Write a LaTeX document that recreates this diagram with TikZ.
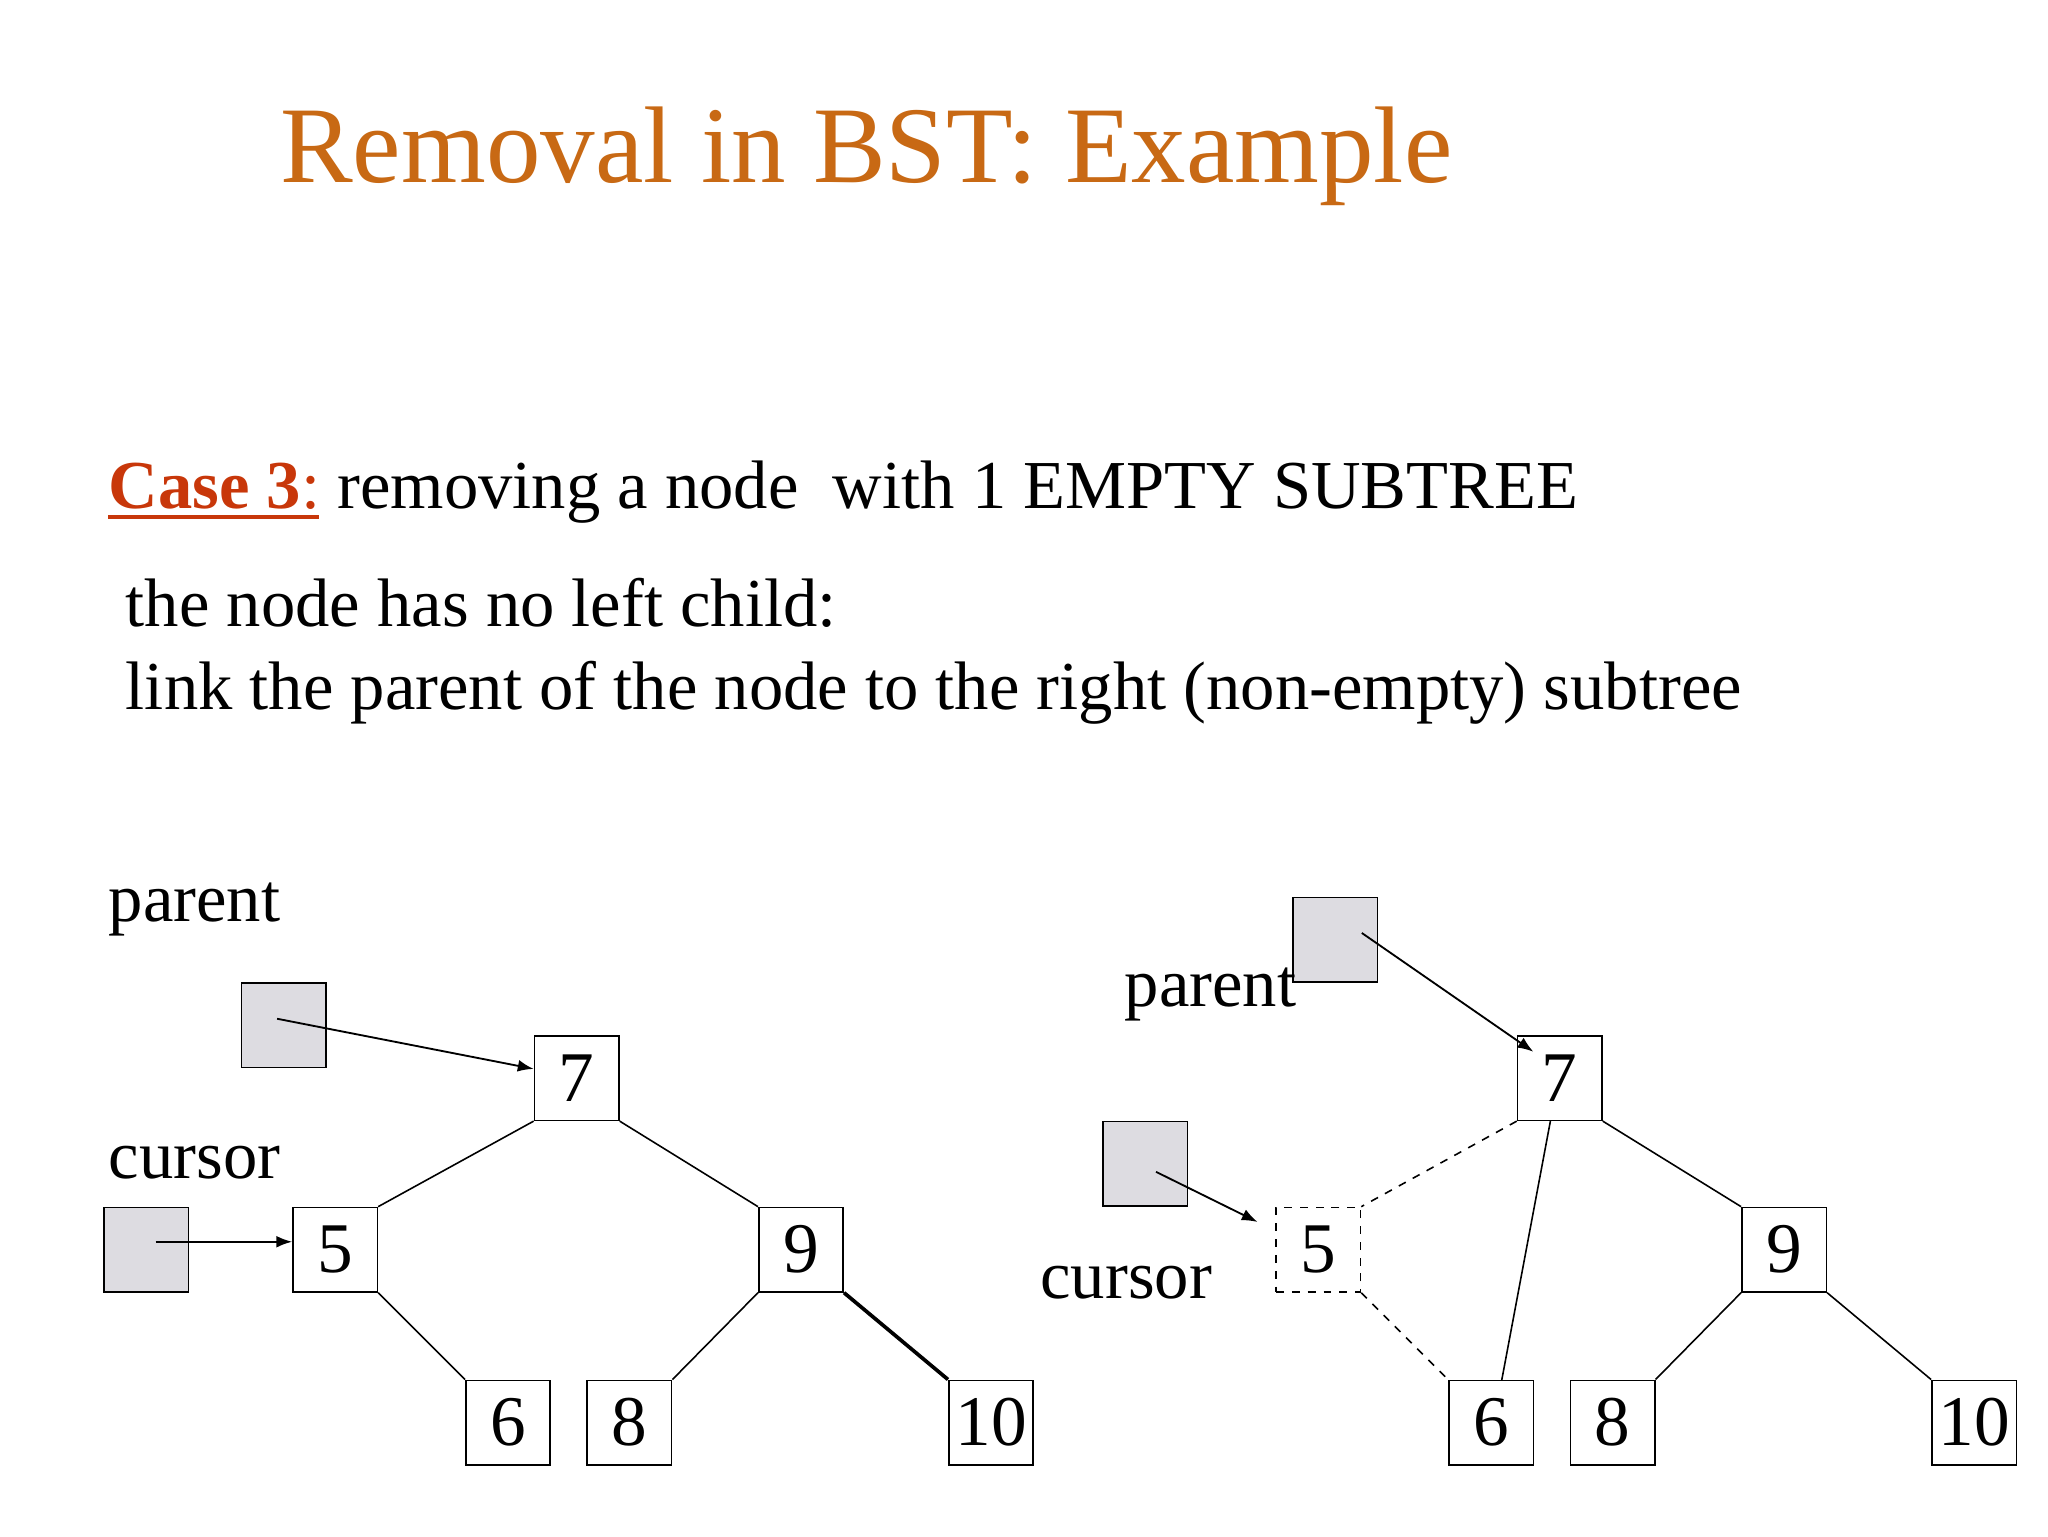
\documentclass[tikz,border=0pt]{standalone}
\usepackage{fontspec}
\setmainfont{Liberation Serif}
\usetikzlibrary{arrows.meta}
\definecolor{ttl}{RGB}{200,105,20}
\definecolor{cs}{RGB}{200,55,10}
\definecolor{gbox}{RGB}{221,220,225}
\newcommand{\myul}[1]{\underline{#1}}
\begin{document}
\begin{tikzpicture}[x=0.5pt,y=-0.5pt,
  bn/.style={draw,line width=0.6pt,minimum size=32pt,inner sep=0pt,font=\fontsize{27}{30}\selectfont},
  gb/.style={draw,line width=0.6pt,fill=gbox,minimum size=32pt,inner sep=0pt},
  lbl/.style={anchor=base west,inner sep=0pt,font=\fontsize{26}{30}\selectfont},
  ed/.style={line width=0.6pt},
  ar/.style={line width=0.7pt,-{Latex[length=6pt,width=4.5pt]}}]
\useasboundingbox (0,0) rectangle (1552,1164);
\node[anchor=base west,inner sep=0pt,text=ttl,font=\fontsize{41.3}{46}\selectfont] (title) at (212,138) {Removal in BST: Example};
\node[lbl] (case) at (82,385) {\textcolor{cs}{\textbf{Case 3}:}\ removing a node\ \ with 1 EMPTY SUBTREE};
\draw[cs,line width=1.5pt] (82,392) -- (242,392);
\node[lbl] (l2) at (95,475) {the node has no left child:};
\node[lbl] (l3) at (95,538) {link the parent of the node to the right (non-empty) subtree};
% left tree
\node[bn] (a7) at (437,817) {7};
\node[bn] (a5) at (254,947) {5};
\node[bn] (a9) at (607,947) {9};
\node[bn] (a6) at (385,1078) {6};
\node[bn] (a8) at (477,1078) {8};
\node[bn] (a10) at (751,1078) {10};
\node[gb] (ap) at (215,777) {};
\node[gb] (ac) at (111,947) {};
\node[lbl] (apl) at (82,698) {parent};
\node[lbl] (acl) at (82,893) {cursor};
\draw[ed] (a7.south west) -- (a5.north east);
\draw[ed] (a7.south east) -- (a9.north west);
\draw[ed] (a5.south east) -- (a6.north west);
\draw[ed] (a9.south west) -- (a8.north east);
\draw[line width=1.4pt] (a9.south east) -- (a10.north west);
\coordinate (aps) at (210,772);
\coordinate (acs) at (118,941);
\draw[ar] (aps) -- (a7.west |- 0,810);
\draw[ar] (acs) -- (a5.west |- 0,941);
% right tree
\node[bn] (b7) at (1182,817) {7};
\node[bn,dashed] (b5) at (999,947) {5};
\node[bn] (b9) at (1352,947) {9};
\node[bn] (b6) at (1130,1078) {6};
\node[bn] (b8) at (1222,1078) {8};
\node[bn] (b10) at (1496,1078) {10};
\node[gb] (bp) at (1012,712) {};
\node[gb] (bc) at (868,882) {};
\node[lbl] (bpl) at (852,763) {parent};
\node[lbl] (bcl) at (788,984) {cursor};
\draw[ed,dashed] (b7.south west) -- (b5.north east);
\draw[ed,dashed] (b5.south east) -- (b6.north west);
\coordinate (b7s) at (1175,849);
\coordinate (b6n) at (1138,1046);
\draw[ed] (b7s) -- (b6n);
\draw[ed] (b7.south east) -- (b9.north west);
\draw[ed] (b9.south west) -- (b8.north east);
\draw[ed] (b9.south east) -- (b10.north west);
\coordinate (bps) at (1032,707);
\coordinate (bpe) at (1162,797);
\coordinate (bcs) at (876,888);
\coordinate (bce) at (953,926);
\draw[ar] (bps) -- (bpe);
\draw[ar] (bcs) -- (bce);
\end{tikzpicture}
\end{document}
